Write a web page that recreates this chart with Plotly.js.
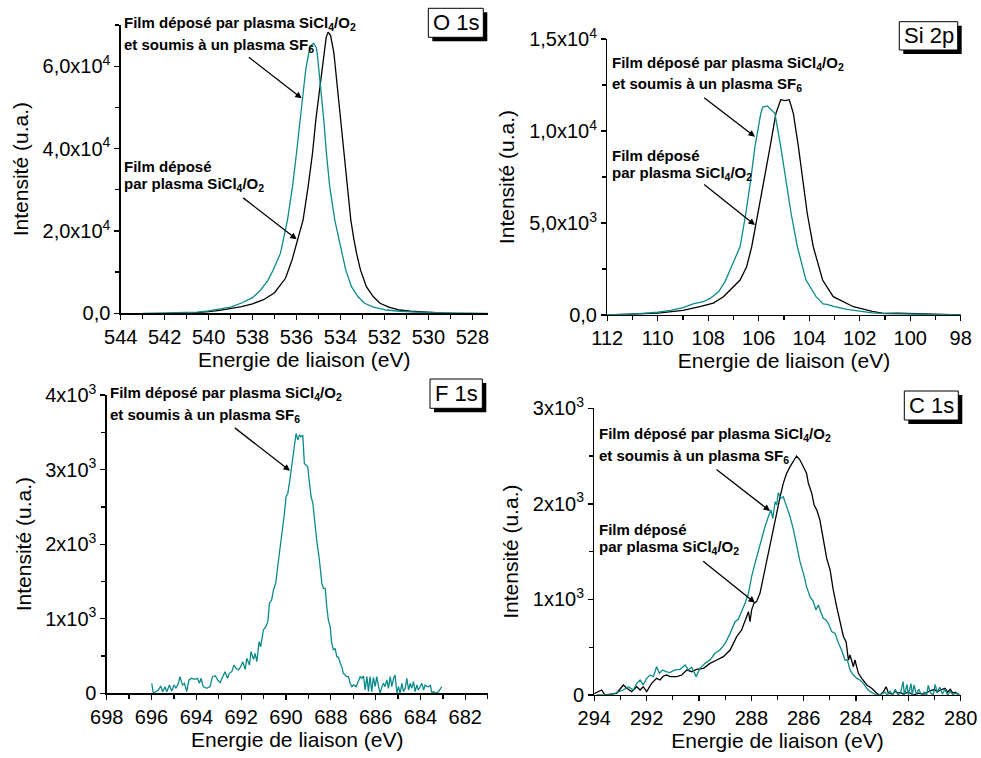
<!DOCTYPE html>
<html>
<head>
<meta charset="utf-8">
<script src="https://cdn.plot.ly/plotly-3.0.1.min.js"></script>
<style>html,body{margin:0;padding:0;background:#fff}#chart{width:981px;height:758px}</style>
</head>
<body>
<div id="chart"></div>
<script>
// ---------- O 1s ----------
const o1sEnergyFilm = [541.0,540.5,540.0,539.5,539.0,538.5,538.0,537.5,537.0,536.5,536.2,535.95,535.7,535.47,535.27,535.12,534.94,534.76,534.65,534.56,534.45,534.3,534.15,534.0,533.85,533.7,533.53,533.4,533.27,533.09,532.82,532.5,532.2,531.8,531.3,530.8,530.3,529.8,529.3,529.0];
const o1sIntensityFilm = [0,150,400,700,1100,1600,2300,3300,5000,8500,13000,18000,22700,30800,38930,47030,55130,63260,67000,68270,67500,63260,55130,47030,38930,30800,22700,18300,14600,10530,6470,4000,2430,1500,800,500,300,150,50,0];
const o1sEnergySF6 = [543.0,542.0,541.0,540.5,540.0,539.5,539.0,538.5,538.0,537.64,537.3,537.06,536.73,536.41,536.18,536.0,535.84,535.67,535.58,535.44,535.3,535.21,535.1,535.06,534.9,534.76,534.64,534.49,534.26,533.95,533.76,533.5,533.2,532.9,532.5,531.91,531.3,530.5,530.0,529.0,528.0,527.3];
const o1sIntensitySF6 = [0,50,150,300,600,1000,1500,2500,3800,5600,8000,10530,14600,22700,30800,38930,47030,55130,59190,63260,65200,65520,64500,63260,55130,47030,38930,30800,22700,14600,10530,6470,4000,2430,1500,800,500,300,200,100,50,0];

// ---------- Si 2p ----------
const si2pEnergyFilm = [112,111,110,109,108.33,107.8,107.4,106.74,106.48,106.28,106.02,105.79,105.55,105.32,105.13,104.95,104.79,104.63,104.43,104.26,104.08,103.84,103.47,103.05,102.25,101.5,101.06,100.5,100,99,98];
const si2pIntensityFilm = [0,30,100,250,450,650,995,1900,2625,3710,5530,7340,9150,10960,11700,11650,11700,10960,9150,7340,5530,3710,1900,995,450,200,92,100,80,20,0];
const si2pEnergySF6 = [112,111,110,109.5,109,108.6,108.2,107.93,107.6,107.34,106.74,106.51,106.32,106.15,105.92,105.84,105.66,105.55,105.36,105.13,104.92,104.72,104.47,104.13,103.73,103.45,103.3,103.0,102.5,102,101.5,101,100,99,98];
const si2pIntensitySF6 = [0,50,150,250,400,600,720,900,1250,1800,3710,5530,7340,9150,10960,11300,11360,11200,10960,9150,7340,5530,3710,1900,995,600,580,450,300,200,120,80,50,20,0];

// ---------- F 1s ----------
const f1sEnergySF6 = [695.99,695.92,695.69,695.59,695.50,695.40,695.32,695.20,695.10,694.99,694.91,694.80,694.73,694.62,694.53,694.43,694.33,694.21,694.06,693.95,693.86,693.79,693.69,693.54,693.39,693.28,693.16,693.05,692.94,692.82,692.72,692.61,692.53,692.42,692.32,692.23,692.12,692.02,691.93,691.82,691.75,691.63,691.56,691.45,691.38,691.30,691.20,691.13,691.01,690.90,690.81,690.74,690.64,690.56,690.46,690.37,690.26,690.17,690.07,690.00,689.92,689.85,689.77,689.70,689.62,689.55,689.47,689.40,689.33,689.25,689.18,689.10,689.03,688.95,688.88,688.80,688.73,688.63,688.51,688.40,688.33,688.25,688.18,688.11,688.03,687.96,687.88,687.81,687.73,687.66,687.58,687.51,687.44,687.36,687.29,687.21,687.14,687.06,686.99,686.87,686.77,686.69,686.62,686.54,686.47,686.39,686.32,686.25,686.17,686.10,686.02,685.95,685.87,685.80,685.72,685.65,685.58,685.50,685.43,685.35,685.28,685.20,685.13,685.05,684.98,684.91,684.83,684.76,684.68,684.61,684.53,684.46,684.39,684.31,684.24,684.16,684.09,684.01,683.94,683.86,683.79,683.71,683.64,683.56,683.49,683.42,683.30,683.19,683.05];
const f1sIntensitySF6 = [134,0,44,98,22,89,22,112,31,112,67,134,223,112,134,22,179,201,188,201,134,201,89,67,89,223,236,179,143,223,290,201,268,290,380,335,313,357,424,321,469,380,558,455,536,424,692,625,849,893,960,1206,1251,1385,1474,1697,1943,2188,2412,2635,2680,2814,2993,3172,3395,3484,3395,3462,3440,3462,3082,3060,3038,2814,2635,2546,2322,2054,1787,1474,1407,1407,1161,983,893,670,581,603,491,482,402,357,268,246,223,223,134,89,112,89,156,223,201,232,44,223,22,223,22,214,89,223,89,0,89,134,89,179,67,223,89,201,246,0,89,0,134,22,67,201,44,134,67,156,22,112,44,89,134,44,112,89,89,112,0,22,0,22,89];

// ---------- C 1s ----------
const c1sEnergyFilm = [294.1,293.72,293.59,293.15,292.89,292.76,292.57,292.38,292.25,292.13,292.0,291.81,291.62,291.49,291.36,291.23,291.11,290.85,290.66,290.47,290.28,290.09,289.83,289.58,289.32,289.07,288.81,288.56,288.37,288.24,288.11,288.05,287.99,287.90,287.80,287.67,287.54,287.41,287.29,287.16,287.03,286.90,286.78,286.65,286.52,286.39,286.27,286.14,286.01,285.89,285.82,285.69,285.60,285.50,285.38,285.25,285.12,284.99,284.87,284.74,284.61,284.48,284.38,284.29,284.23,284.10,284.04,283.91,283.78,283.59,283.40,283.21,283.08,282.95,282.85,282.76,282.6,282.5,282.4,282.3,282.2,282.0,281.8,281.6,281.4,281.2,281.0,280.9,280.8,280.6,280.5,280.4,280.3,280.2,280.05];
const c1sIntensityFilm = [0,52,0,18,105,70,35,87,52,87,35,122,174,157,199,209,192,192,209,262,244,269,279,331,366,401,471,610,680,785,872,767,889,959,977,1064,1238,1378,1552,1727,1901,2075,2215,2320,2389,2442,2501,2459,2389,2320,2215,2110,1988,1936,1831,1622,1430,1308,1099,924,750,610,558,366,419,296,366,227,174,105,70,18,0,35,87,18,10,40,20,30,10,30,0,20,10,40,60,30,50,70,30,60,20,30,0];
const c1sEnergySF6 = [293.91,293.4,292.89,292.7,292.51,292.38,292.25,292.13,292.0,291.87,291.74,291.62,291.51,291.39,291.26,291.11,290.92,290.72,290.53,290.41,290.28,290.11,289.96,289.77,289.58,289.39,289.2,289.0,288.81,288.62,288.5,288.37,288.24,288.11,287.99,287.86,287.73,287.60,287.48,287.35,287.25,287.18,287.09,287.03,286.97,286.88,286.78,286.65,286.52,286.39,286.27,286.14,286.01,285.89,285.76,285.63,285.53,285.44,285.35,285.25,285.15,285.06,284.93,284.8,284.67,284.55,284.42,284.33,284.23,284.1,283.97,283.85,283.72,283.59,283.46,283.34,283.21,283.08,282.9,282.8,282.7,282.6,282.5,282.4,282.3,282.2,282.15,282.05,282.0,281.9,281.85,281.78,281.7,281.6,281.5,281.4,281.3,281.24,281.15,281.05,280.98,280.9,280.8,280.7,280.6,280.5,280.4,280.3,280.2,280.05];
const c1sIntensitySF6 = [0,0,52,87,52,122,157,105,174,209,192,296,227,262,244,234,262,269,314,262,290,192,279,331,366,436,471,541,645,767,792,872,959,1064,1238,1378,1517,1657,1761,1866,1936,1849,2023,1988,2117,2058,2075,1971,1866,1727,1552,1395,1273,1134,1029,977,889,942,872,802,785,750,663,645,541,471,366,366,262,209,174,157,122,70,35,18,0,0,30,0,40,0,60,0,20,140,0,110,0,120,0,105,10,60,0,30,0,100,20,0,110,30,80,10,60,0,40,0,20,0];

// ---------- tick labels ----------
const o1sTickVals = [0,20000,40000,60000];
const o1sTickText = ['0,0','2,0x10<sup>4</sup>','4,0x10<sup>4</sup>','6,0x10<sup>4</sup>'];
const si2pTickVals = [0,5000,10000,15000];
const si2pTickText = ['0,0','5,0x10<sup>3</sup>','1,0x10<sup>4</sup>','1,5x10<sup>4</sup>'];
const f1sTickVals = [0,1000,2000,3000,4000];
const f1sTickText = ['0','1x10<sup>3</sup>','2x10<sup>3</sup>','3x10<sup>3</sup>','4x10<sup>3</sup>'];
const c1sTickVals = [0,1000,2000,3000];
const c1sTickText = ['0','1x10<sup>3</sup>','2x10<sup>3</sup>','3x10<sup>3</sup>'];

const panelNames = ['O 1s','Si 2p','F 1s','C 1s'];
const xTitle = 'Energie de liaison (eV)';
const yTitle = 'Intensité (u.a.)';
const labelFilmSF6a = 'Film déposé par plasma SiCl<sub>4</sub>/O<sub>2</sub>';
const labelFilmSF6b = 'et soumis à un plasma SF<sub>6</sub>';
const labelFilmA = 'Film déposé';
const labelFilmB = 'par plasma SiCl<sub>4</sub>/O<sub>2</sub>';

const TEAL = '#0b8a8a';
const FONT = '"Liberation Sans", Arial, sans-serif';
const NARROW = '"Liberation Sans Narrow", "Arial Narrow", "Liberation Sans", Arial, sans-serif';
const W = 981, H = 758;
const px = v => v / W;
const py = v => 1 - v / H;

function line(x, y, color, xa, ya) {
  return {x: x, y: y, type: 'scatter', mode: 'lines', xaxis: xa, yaxis: ya,
          line: {color: color, width: 1.3}, hoverinfo: 'skip'};
}

const traces = [
  line(o1sEnergyFilm, o1sIntensityFilm, '#000', 'x', 'y'),
  line(o1sEnergySF6, o1sIntensitySF6, TEAL, 'x', 'y'),
  line(si2pEnergyFilm, si2pIntensityFilm, '#000', 'x2', 'y2'),
  line(si2pEnergySF6, si2pIntensitySF6, TEAL, 'x2', 'y2'),
  line(f1sEnergySF6, f1sIntensitySF6, TEAL, 'x3', 'y3'),
  line(c1sEnergyFilm, c1sIntensityFilm, '#000', 'x4', 'y4'),
  line(c1sEnergySF6, c1sIntensitySF6, TEAL, 'x4', 'y4')
];

function xAxis(domain, range, anchor) {
  return {domain: domain, range: range, anchor: anchor, showgrid: false, zeroline: false,
    showline: true, linecolor: '#000', linewidth: 1.3, mirror: false,
    ticks: 'outside', ticklen: 5, tickwidth: 1.3, tickcolor: '#000',
    tickmode: 'linear', tick0: 0, dtick: 2,
    minor: {ticks: 'outside', ticklen: 4, tickwidth: 1.3, tickcolor: '#000', dtick: 1, tick0: 0},
    tickfont: {family: FONT, size: 20, color: '#000'},
    title: {text: xTitle, font: {family: FONT, size: 21, color: '#000'}, standoff: 5},
    automargin: false};
}
function yAxis(domain, range, anchor, vals, text, minorStep) {
  return {domain: domain, range: range, anchor: anchor, showgrid: false, zeroline: false,
    showline: true, linecolor: '#000', linewidth: 1.3, mirror: false,
    ticks: 'outside', ticklen: 5, tickwidth: 1.3, tickcolor: '#000',
    tickmode: 'array', tickvals: vals, ticktext: text,
    minor: {ticks: 'outside', ticklen: 4, tickwidth: 1.3, tickcolor: '#000', dtick: minorStep, tick0: 0},
    tickfont: {family: FONT, size: 20, color: '#000'},
    title: {text: yTitle, font: {family: FONT, size: 21, color: '#000'}, standoff: 8},
    automargin: false};
}

const layout = {
  width: W, height: H, margin: {l: 0, r: 0, t: 0, b: 0},
  paper_bgcolor: '#fff', plot_bgcolor: '#fff', showlegend: false,
  font: {family: FONT, color: '#000'},
  xaxis: xAxis([px(120.7), px(487.7)], [544, 527.3], 'y'),
  yaxis: yAxis([py(313.3), py(25)], [0, 70000], 'x', o1sTickVals, o1sTickText, 10000),
  xaxis2: xAxis([px(607.3), px(960.7)], [112, 98], 'y2'),
  yaxis2: yAxis([py(315), py(39)], [0, 15000], 'x2', si2pTickVals, si2pTickText, 2500),
  xaxis3: xAxis([px(106.7), px(487.7)], [698, 681], 'y3'),
  yaxis3: yAxis([py(693.3), py(395)], [0, 4000], 'x3', f1sTickVals, f1sTickText, 500),
  xaxis4: xAxis([px(594.3), px(960.7)], [294, 280], 'y4'),
  yaxis4: yAxis([py(695), py(408.3)], [0, 3000], 'x4', c1sTickVals, c1sTickText, 500),
  shapes: [],
  annotations: []
};

// boxed panel labels with drop shadow
const boxes = [[428.3, 483.3, 8.3, 37.3], [899.3, 957.7, 21.7, 50], [430, 482.3, 379, 408.3], [904.3, 958.3, 391, 420]];
boxes.forEach((b, i) => {
  layout.shapes.push({type: 'rect', xref: 'paper', yref: 'paper', x0: px(b[0] + 4), x1: px(b[1] + 4), y0: py(b[3] + 4), y1: py(b[2] + 4),
    fillcolor: '#000', line: {width: 0}, layer: 'above'});
  layout.shapes.push({type: 'rect', xref: 'paper', yref: 'paper', x0: px(b[0]), x1: px(b[1]), y0: py(b[3]), y1: py(b[2]),
    fillcolor: '#fff', line: {color: '#000', width: 1}, layer: 'above'});
  layout.annotations.push({xref: 'paper', yref: 'paper', x: px((b[0] + b[1]) / 2), y: py((b[2] + b[3]) / 2),
    text: panelNames[i], showarrow: false, xanchor: 'center', yanchor: 'middle',
    font: {family: FONT, size: 22, color: '#000'}});
});

function label(text, x, y) {
  layout.annotations.push({xref: 'paper', yref: 'paper', x: px(x - 3), y: py(y), text: text, showarrow: false,
    xanchor: 'left', yanchor: 'middle', borderpad: 0,
    font: {family: NARROW, size: 15, color: '#000', weight: 'bold'}});
}
function arrow(x0, y0, x1, y1) {
  layout.annotations.push({xref: 'paper', yref: 'paper', x: px(x1), y: py(y1), axref: 'pixel', ayref: 'pixel',
    ax: x0 - x1, ay: y0 - y1, text: '', showarrow: true, arrowhead: 2, arrowsize: 1, arrowwidth: 1.3, arrowcolor: '#000', standoff: 0});
}

// O 1s
label(labelFilmSF6a, 126, 23); label(labelFilmSF6b, 126, 45);
label(labelFilmA, 126, 166.3); label(labelFilmB, 126, 184.3);
arrow(247.3, 56, 301.7, 98.3); arrow(241.7, 196.7, 296.7, 239.3);
// Si 2p
label(labelFilmSF6a, 614, 63.3); label(labelFilmSF6b, 614, 85);
label(labelFilmA, 614, 155.3); label(labelFilmB, 614, 173.5);
arrow(702.7, 96.7, 755, 136.7); arrow(702.7, 183.3, 755, 225);
// F 1s
label(labelFilmSF6a, 112, 393.3); label(labelFilmSF6b, 112, 415);
arrow(233.3, 426.7, 290, 470.7);
// C 1s
label(labelFilmSF6a, 600.7, 434.3); label(labelFilmSF6b, 600.7, 456.7);
label(labelFilmA, 600.7, 529.2); label(labelFilmB, 600.7, 547.2);
arrow(715, 468.3, 770, 511); arrow(701.7, 560, 755, 602.7);

Plotly.newPlot('chart', traces, layout, {staticPlot: true, displayModeBar: false});
</script>
</body>
</html>
